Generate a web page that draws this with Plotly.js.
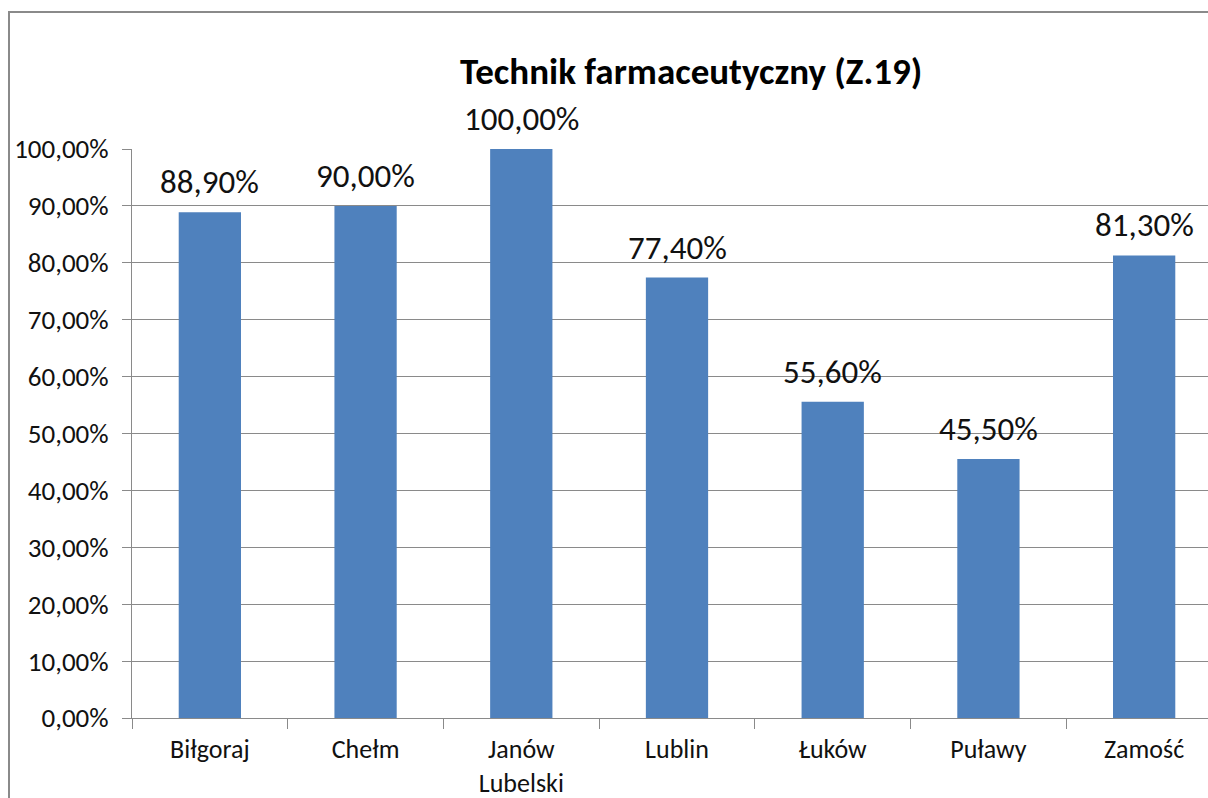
<!DOCTYPE html>
<html>
<head>
<meta charset="utf-8">
<script src="https://cdn.plot.ly/plotly-3.0.1.min.js"></script>
<style>
  html, body { margin: 0; padding: 0; overflow: hidden; background: #fff; }
  #chart { position: absolute; left: 0; top: 0; }
  #frame { position: absolute; left: 8px; top: 11px; width: 1400px; height: 1000px;
           border-left: 2px solid #8a8a8a; border-top: 2px solid #8a8a8a;
           pointer-events: none; }
</style>
</head>
<body>
<div id="chart"></div>
<div id="frame"></div>
<script>
const categories = ["Biłgoraj", "Chełm", "Janów<br>Lubelski", "Lublin", "Łuków", "Puławy", "Zamość"];
const values = [0.889, 0.900, 1.000, 0.774, 0.556, 0.455, 0.813];
const tickValues = [0, 0.1, 0.2, 0.3, 0.4, 0.5, 0.6, 0.7, 0.8, 0.9, 1.0];
const chartTitle = "Technik farmaceutyczny (Z.19)";

const FONT = "Carlito, Lato, 'Liberation Sans', sans-serif";

function fmtPct(v) {
  return (v * 100).toFixed(2).replace(".", ",") + "%";
}

const trace = {
  type: "bar",
  x: categories,
  y: values,
  marker: { color: "#4f81bd" },
  hoverinfo: "skip"
};

const labels = categories.map((c, i) => ({
  x: c,
  y: values[i],
  xref: "x",
  yref: "y",
  text: fmtPct(values[i]),
  showarrow: false,
  yanchor: "bottom",
  xanchor: "center",
  yshift: 8,
  font: { family: FONT, size: 33, color: "#111111" }
}));

const layout = {
  width: 1230,
  height: 798,
  margin: { l: 132, r: 8, t: 149, b: 80 },
  paper_bgcolor: "#ffffff",
  plot_bgcolor: "#ffffff",
  separators: ", ",
  bargap: 0.6,
  showlegend: false,
  annotations: labels,
  title: {
    text: "<b>" + chartTitle + "</b>",
    font: { family: FONT, size: 37, color: "#000000" },
    x: 0.562, xanchor: "center",
    y: 1 - 71 / 798, yanchor: "middle",
    xref: "container", yref: "container"
  },
  xaxis: {
    type: "category",
    tickson: "boundaries",
    ticks: "outside",
    ticklen: 10,
    tickcolor: "#8a8a8a",
    showline: true,
    linecolor: "#8a8a8a",
    linewidth: 1,
    showgrid: false,
    ticklabelstandoff: 8,
    tickfont: { family: FONT, size: 26, color: "#111111" },
    fixedrange: true
  },
  yaxis: {
    range: [0, 1],
    tickvals: tickValues,
    tickformat: ".2%",
    ticks: "outside",
    ticklen: 9,
    tickcolor: "#8a8a8a",
    showline: true,
    linecolor: "#8a8a8a",
    linewidth: 1,
    showgrid: true,
    gridcolor: "#8a8a8a",
    gridwidth: 1,
    zeroline: false,
    ticklabelstandoff: 8,
    tickfont: { family: FONT, size: 27, color: "#111111" },
    fixedrange: true
  }
};

Plotly.newPlot("chart", [trace], layout, { displayModeBar: false, staticPlot: true });
</script>
</body>
</html>
